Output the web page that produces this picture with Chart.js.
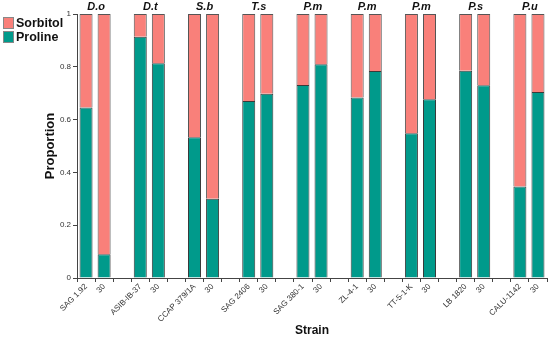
<!DOCTYPE html>
<html>
<head>
<meta charset="utf-8">
<script src="https://cdn.jsdelivr.net/npm/chart.js@4.4.1/dist/chart.umd.min.js"></script>
<style>
  html, body { margin: 0; padding: 0; background: #fff; }
  #wrap { position: relative; width: 550px; height: 338px; }
  canvas { position: absolute; left: 0; top: 0; }
  .leg { position: absolute; left: 3px; font: bold 12.5px "Liberation Sans", Arial, sans-serif; color: #111; display: flex; align-items: center; }
  .sw { width: 11px; height: 12px; border: 1px solid #888; margin-right: 2px; box-sizing: border-box; }
</style>
</head>
<body>
<div id="wrap">
  <canvas id="c" width="550" height="338"></canvas>
  <div class="leg" style="top:16px"><span class="sw" style="background:#F9807A"></span>Sorbitol</div>
  <div class="leg" style="top:30px"><span class="sw" style="background:#009A8B"></span>Proline</div>
</div>
<script>
// Data
const strainLabels = ["SAG 1.92", "30", "", "ASIB-IB-37", "30", "", "CCAP 379/1A", "30", "",
  "SAG 2406", "30", "", "SAG 380-1", "30", "", "ZL-4-1", "30", "", "TT-5-1-K", "30", "",
  "LB 1820", "30", "", "CALU-1142", "30"];
const prolineValues = [0.646, 0.09, null, 0.914, 0.813, null, 0.533, 0.30, null,
  0.670, 0.698, null, 0.731, 0.81, null, 0.684, 0.784, null, 0.548, 0.677, null,
  0.785, 0.73, null, 0.347, 0.705];
const sorbitolValues = [0.354, 0.91, null, 0.086, 0.187, null, 0.467, 0.70, null,
  0.330, 0.302, null, 0.269, 0.19, null, 0.316, 0.216, null, 0.452, 0.323, null,
  0.215, 0.27, null, 0.653, 0.295];
const speciesLabels = ["D.o", "D.t", "S.b", "T.s", "P.m", "P.m", "P.m", "P.s", "P.u"];
const yTicks = [0, 0.2, 0.4, 0.6, 0.8, 1];

const groupTitles = {
  id: 'groupTitles',
  afterDraw(chart) {
    const x = chart.scales.x, ctx = chart.ctx;
    ctx.save();
    ctx.font = 'italic bold 11px "Liberation Sans", Arial, sans-serif';
    ctx.fillStyle = '#111';
    ctx.textAlign = 'center';
    ctx.textBaseline = 'middle';
    speciesLabels.forEach((s, i) => {
      const a = x.getPixelForValue(i * 3), b = x.getPixelForValue(i * 3 + 1);
      ctx.fillText(s, (a + b) / 2 + 1, 7);
    });
    ctx.restore();
  }
};

new Chart(document.getElementById('c'), {
  type: 'bar',
  data: {
    labels: strainLabels,
    datasets: [
      { label: 'Proline', data: prolineValues, backgroundColor: '#009A8B', borderColor: '#3a3a3a', borderWidth: 1, borderSkipped: 'bottom' },
      { label: 'Sorbitol', data: sorbitolValues, backgroundColor: '#F9807A', borderColor: '#555', borderWidth: 1, borderSkipped: 'bottom' }
    ]
  },
  options: {
    responsive: false,
    animation: false,
    devicePixelRatio: 1,
    layout: { padding: { left: 42, top: 14, right: 3, bottom: 0 } },
    datasets: { bar: { categoryPercentage: 1, barPercentage: 0.72, grouped: false } },
    plugins: { legend: { display: false }, tooltip: { enabled: false } },
    scales: {
      x: {
        stacked: true,
        offset: true,
        grid: { display: true, drawOnChartArea: false, offset: true, tickLength: 4, color: '#444' },
        border: { display: true, color: '#444', width: 1 },
        ticks: { autoSkip: false, maxRotation: 45, minRotation: 45, padding: 0,
          font: { size: 8, family: '"Liberation Sans", Arial, sans-serif' }, color: '#333' },
        title: { display: true, text: 'Strain', padding: { top: 0, bottom: 0 },
          font: { size: 12, weight: 'bold', family: '"Liberation Sans", Arial, sans-serif' }, color: '#111' },
        afterFit(s) { s.height = 60; }
      },
      y: {
        stacked: true,
        min: 0, max: 1,
        afterBuildTicks(s) { s.ticks = yTicks.map(v => ({ value: v })); },
        grid: { display: true, drawOnChartArea: false, tickLength: 4, color: '#444' },
        border: { display: true, color: '#444', width: 1 },
        ticks: { padding: 2, font: { size: 8, family: '"Liberation Sans", Arial, sans-serif' }, color: '#333',
          callback: v => String(v) },
        title: { display: true, text: 'Proportion', padding: { top: 1, bottom: 0 },
          font: { size: 13, weight: 'bold', family: '"Liberation Sans", Arial, sans-serif' }, color: '#111' },
        afterFit(s) { s.width = 35; }
      }
    }
  },
  plugins: [groupTitles]
});
</script>
</body>
</html>
